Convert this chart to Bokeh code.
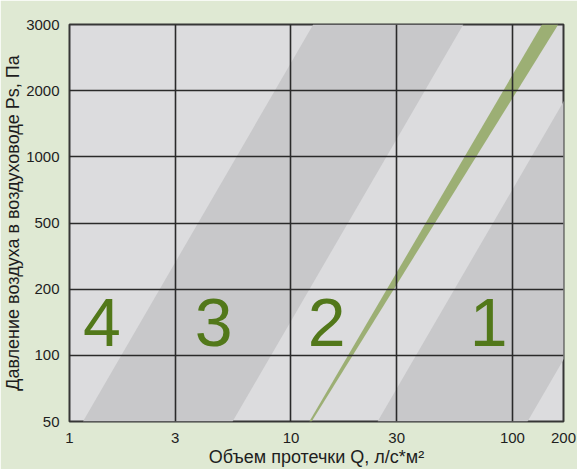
import re
import numpy as np
from bokeh.plotting import figure
from bokeh.models import Range1d, FixedTicker
from bokeh.core.properties import value
from bokeh.embed import file_html
from bokeh.resources import INLINE

# ---- axis ticks ----
q_tick_values = [1, 3, 10, 30, 100, 200]
q_tick_labels = ["1", "3", "10", "30", "100", "200"]
ps_tick_labels = ["50", "100", "200", "500", "1000", "2000", "3000"]

# ---- leakage class bands (dark): Q at Ps=50 (bottom) and Ps=3000 (top) ----
band_q_left_50 = [1.15, 24.6]
band_q_right_50 = [5.45, 117.0]
band_q_left_3000 = [12.6, 271.0]
band_q_right_3000 = [60.0, 1290.0]

# ---- green measured wedge ----
wedge_q_50 = [12.1, 12.4]
wedge_q_3000 = [136.0, 161.0]

# ---- class labels ----
class_labels = ["4", "3", "2", "1"]
class_label_q = [1.40, 4.48, 14.5, 78.0]
class_label_ps_idx = [1.49, 1.49, 1.49, 1.49]

X_END = np.log10(170.0)   # right end of axis (labelled "200" in the original)
Y_TOP = len(ps_tick_labels) - 1

def xp(q):
    return float(np.log10(q))

x_tick_pos = [xp(v) for v in q_tick_values[:-1]] + [X_END]

BG = "#dfe9d3"
p = figure(width=577, height=469, output_backend="svg", toolbar_location=None,
           x_range=Range1d(0, X_END), y_range=Range1d(0, Y_TOP),
           min_border_left=69, min_border_top=24, min_border_right=14, min_border_bottom=46,
           background_fill_color="#dcdcde", border_fill_color=BG)
p.outline_line_color = "#363636"
p.outline_line_width = 2

# dark bands
xs, ys = [], []
for l0, r0, l1, r1 in zip(band_q_left_50, band_q_right_50, band_q_left_3000, band_q_right_3000):
    xs.append([xp(l0), xp(r0), xp(r1), xp(l1)])
    ys.append([0, 0, Y_TOP, Y_TOP])
p.patches(xs, ys, fill_color="#c8c8ca", line_color=None, level="image")

# green wedge
p.patch([xp(wedge_q_50[0]), xp(wedge_q_50[1]), xp(wedge_q_3000[1]), xp(wedge_q_3000[0])],
        [0, 0, Y_TOP, Y_TOP], fill_color="#9caf74", line_color=None, level="image")

# class numbers
p.text(x=[xp(q) for q in class_label_q], y=class_label_ps_idx, text=class_labels,
       text_font=value("Liberation Sans"), text_font_size="68px", text_color="#52781a",
       text_align="center", text_baseline="alphabetic")

# axes
p.xaxis.ticker = FixedTicker(ticks=x_tick_pos)
p.xaxis.major_label_overrides = {pos: lab for pos, lab in zip(x_tick_pos, q_tick_labels)}
p.yaxis.ticker = FixedTicker(ticks=list(range(len(ps_tick_labels))))
p.yaxis.major_label_overrides = {i: lab for i, lab in enumerate(ps_tick_labels)}

for ax in (p.xaxis, p.yaxis):
    ax.axis_line_color = None
    ax.major_tick_line_color = None
    ax.minor_tick_line_color = None
    ax.major_label_text_font = "Liberation Sans"
    ax.major_label_text_font_size = "15px"
    ax.major_label_text_color = "#1e1e1e"
    ax.axis_label_text_font = "Liberation Sans"
    ax.axis_label_text_font_size = "18px"
    ax.axis_label_text_font_style = "normal"
    ax.axis_label_text_color = "#1e1e1e"
    ax.axis_label_standoff = 0

p.xaxis.major_label_standoff = 5
p.xaxis.axis_label_standoff = 1
p.yaxis.major_label_standoff = 4
p.xaxis.axis_label = "Объем протечки Q, л/с*м²"
p.yaxis.axis_label = "Давление воздуха в воздуховоде Ps, Па"

p.xgrid.ticker = FixedTicker(ticks=x_tick_pos[:-1])
p.ygrid.ticker = FixedTicker(ticks=list(range(1, len(ps_tick_labels) - 1)))
for g in (p.xgrid, p.ygrid):
    g.grid_line_color = "#2a2a2a"
    g.grid_line_width = 1.6

html = file_html(p, INLINE)
html = re.sub(r"<body([^>]*)>", lambda m: '<body%s style="background-color:%s;">' % (m.group(1), BG), html, count=1)
open("out.html", "w").write(html)
